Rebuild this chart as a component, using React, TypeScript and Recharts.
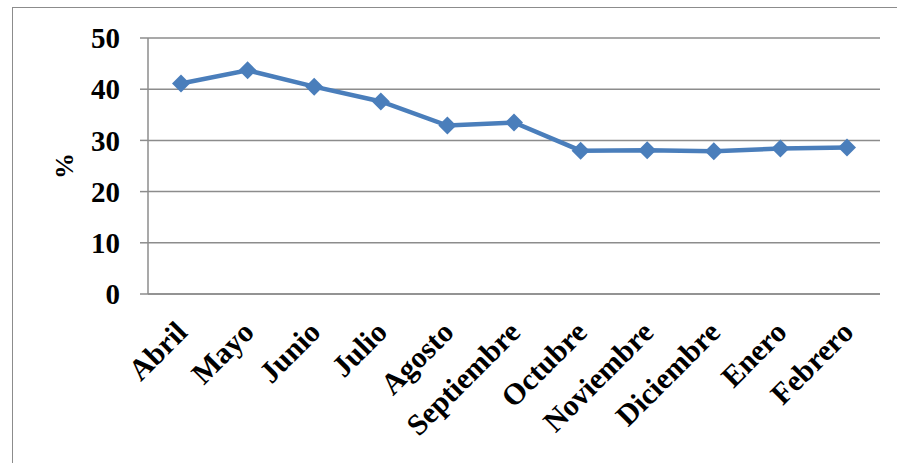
import { LineChart, Line, XAxis, YAxis, CartesianGrid } from "recharts";

const months = [
  "Abril",
  "Mayo",
  "Junio",
  "Julio",
  "Agosto",
  "Septiembre",
  "Octubre",
  "Noviembre",
  "Diciembre",
  "Enero",
  "Febrero",
];
const percent = [41.1, 43.7, 40.5, 37.6, 32.9, 33.5, 28.0, 28.1, 27.9, 28.4, 28.6];
const yTicks = [0, 10, 20, 30, 40, 50];

const data = months.map((m, i) => ({ month: m, value: percent[i] }));

const FONT = '"Liberation Serif", "Times New Roman", serif';
const GRID = "#8c8c8c";
const BLUE = "#4a7ebb";

function MonthTick(props: any) {
  const { x, y, payload } = props;
  return (
    <text
      transform={`translate(${x + 8}, ${y + 32}) rotate(-45)`}
      textAnchor="end"
      fontFamily={FONT}
      fontWeight="bold"
      fontSize={30}
      fill="#000"
    >
      {payload.value}
    </text>
  );
}

function Diamond(props: any) {
  const { cx, cy } = props;
  if (cx == null || cy == null) return null;
  const r = 9;
  return (
    <path
      d={`M${cx},${cy - r} L${cx + r},${cy} L${cx},${cy + r} L${cx - r},${cy} Z`}
      fill={BLUE}
    />
  );
}

export default function App() {
  return (
    <div style={{ position: "absolute", left: 0, top: 0, width: 897, height: 463, background: "#fff", overflow: "hidden" }}>
      <div
        style={{
          position: "absolute",
          left: 12,
          top: 7,
          width: 900,
          height: 470,
          border: "1.5px solid #8c8c8c",
          boxSizing: "border-box",
        }}
      />
      <div style={{ position: "absolute", left: 0, top: 0 }}>
        <LineChart width={897} height={463} data={data} margin={{ top: 38, right: 17, left: 0, bottom: 0 }}>
          <CartesianGrid vertical={false} stroke={GRID} strokeWidth={1.5} />
          <XAxis
            dataKey="month"
            interval={0}
            height={169}
            padding={{ left: 33, right: 33 }}
            tickLine={false}
            axisLine={{ stroke: GRID, strokeWidth: 1.5 }}
            tick={<MonthTick />}
          />
          <YAxis
            width={148}
            domain={[0, 50]}
            ticks={yTicks}
            tickSize={8}
            tickMargin={20}
            tickLine={{ stroke: GRID, strokeWidth: 1.5 }}
            axisLine={{ stroke: GRID, strokeWidth: 1.5 }}
            tick={{ fontFamily: FONT, fontWeight: "bold", fontSize: 29, fill: "#000" }}
            label={{
              value: "%",
              angle: -90,
              position: "insideLeft",
              offset: 64,
              style: { fontFamily: FONT, fontWeight: "bold", fontSize: 26, fill: "#000", textAnchor: "middle" },
            }}
          />
          <Line
            type="linear"
            dataKey="value"
            stroke={BLUE}
            strokeWidth={4.5}
            dot={<Diamond />}
            activeDot={false}
            isAnimationActive={false}
          />
        </LineChart>
      </div>
    </div>
  );
}
